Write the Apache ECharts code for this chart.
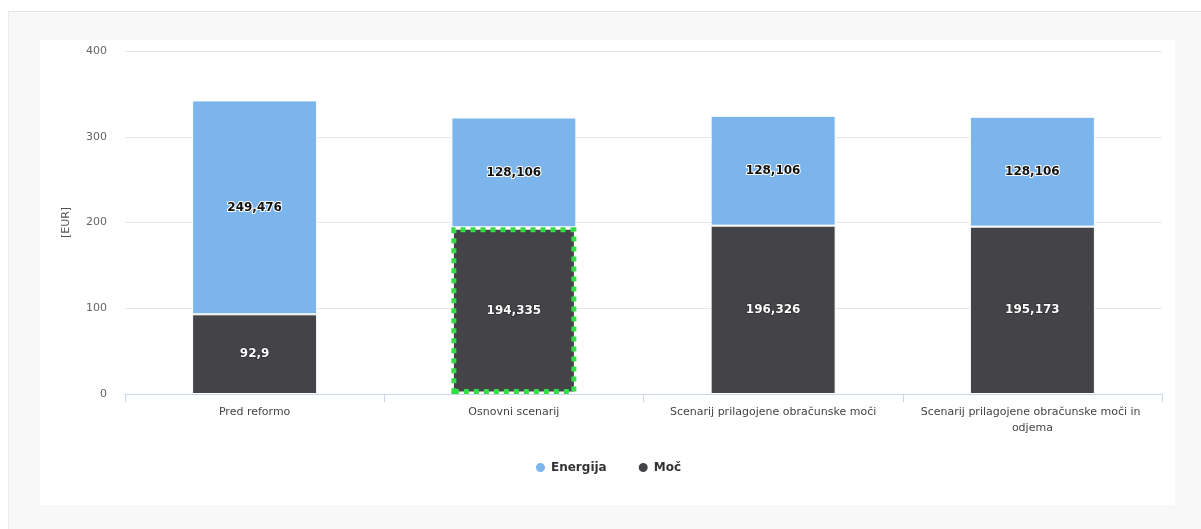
<!DOCTYPE html>
<html>
<head>
<meta charset="utf-8">
<script src="https://cdn.jsdelivr.net/npm/echarts@6/dist/echarts.min.js"></script>
<style>
html,body{margin:0;padding:0;background:#fff;width:1201px;height:529px;overflow:hidden;}
#panel{position:absolute;left:8px;top:11px;width:1193px;height:518px;background:#f8f8f8;border-top:1px solid #e2e2e2;border-left:1px solid #ececec;}
#chart{position:absolute;left:40px;top:40px;width:1135px;height:465px;background:#fff;}
</style>
</head>
<body>
<div id="panel"></div>
<div id="chart"></div>
<script>
const categories = ['Pred reformo', 'Osnovni scenarij', 'Scenarij prilagojene obračunske moči', 'Scenarij prilagojene obračunske moči in odjema'];
const energija = [249.476, 128.106, 128.106, 128.106];
const moc = [92.9, 194.335, 196.326, 195.173];
const yTicks = [0, 100, 200, 300, 400];
const highlightIndex = 1;

const fmt = v => String(v).replace('.', ',');

const chart = echarts.init(document.getElementById('chart'), null, {renderer: 'canvas'});
chart.setOption({
  animation: false,
  backgroundColor: '#fff',
  textStyle: {fontFamily: 'DejaVu Sans'},
  grid: {left: 85, right: 13, top: 11, bottom: 111},
  legend: {
    bottom: 26, left: 'center', icon: 'circle', itemWidth: 11, itemHeight: 11, itemGap: 30,
    textStyle: {fontSize: 12, fontWeight: 'bold', color: '#333', fontFamily: 'DejaVu Sans'},
    data: ['Energija', 'Moč']
  },
  xAxis: {
    type: 'category', data: categories,
    axisLine: {lineStyle: {color: '#ccd6eb'}},
    axisTick: {show: true, length: 8, lineStyle: {color: '#ccd6eb'}},
    axisLabel: {color: '#444', fontSize: 11, margin: 10, width: 258, overflow: 'break', interval: 0, lineHeight: 16}
  },
  yAxis: {
    type: 'value', min: yTicks[0], max: yTicks[yTicks.length - 1], interval: 100,
    name: '[EUR]', nameLocation: 'middle', nameGap: 53, nameRotate: 90,
    nameTextStyle: {color: '#555', fontSize: 11},
    axisLabel: {color: '#666', fontSize: 11, margin: 18},
    splitLine: {lineStyle: {color: '#e6e6e6'}},
    axisLine: {show: false}, axisTick: {show: false}
  },
  series: [
    {
      name: 'Moč', type: 'bar', stack: 'total', barWidth: 125,
      itemStyle: {color: '#434348', borderColor: '#fff', borderWidth: 1},
      label: {show: true, position: 'inside', formatter: p => fmt(p.value), color: '#fff', fontWeight: 'bold', fontSize: 12, textBorderColor: '#222', textBorderWidth: 1},
      data: moc.map((v, i) => i === highlightIndex
        ? {value: v, itemStyle: {borderColor: '#33dd44', borderWidth: 5, borderType: 'dotted'}}
        : v),
      z: 3
    },
    {
      name: 'Energija', type: 'bar', stack: 'total', barWidth: 125,
      itemStyle: {color: '#7cb5ec', borderColor: '#fff', borderWidth: 1},
      label: {show: true, position: 'inside', formatter: p => fmt(p.value), color: '#111', fontWeight: 'bold', fontSize: 12, textBorderColor: '#fff', textBorderWidth: 2},
      data: energija,
      z: 2
    }
  ]
});
</script>
</body>
</html>
